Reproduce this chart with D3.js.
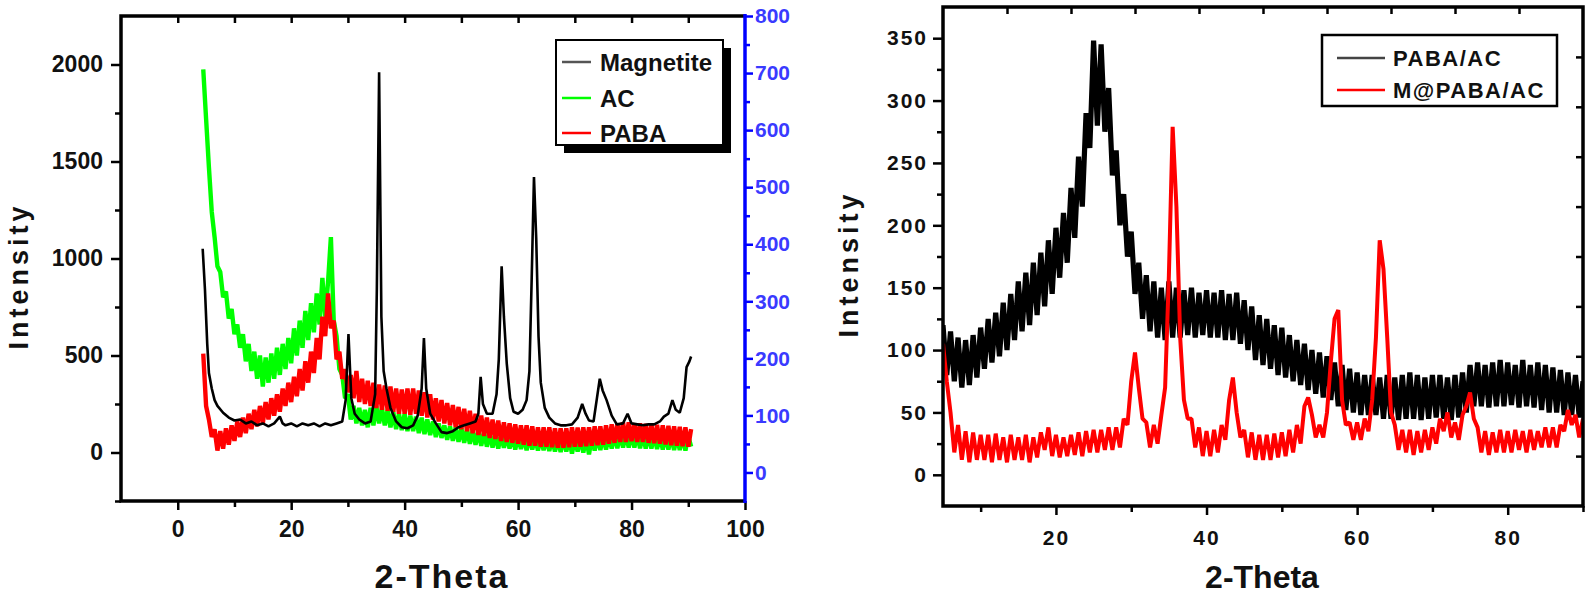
<!DOCTYPE html>
<html>
<head>
<meta charset="utf-8">
<title>XRD</title>
<style>
	body { margin: 0; background: #fff; }
	svg { font-family: Arial, 'Liberation Sans', sans-serif; font-weight: bold; }
	.axis .domain { display: none; }
	.axis line { stroke: #000; stroke-width: 2.5px; }
	.axis text { fill: #111; }
	.left-panel .axis text { font-size: 23px; }
	.right-panel .axis text { font-size: 21px; letter-spacing: 2px; }
	.blue line { stroke: #0000ff; }
	.blue text { fill: #3a3aff; font-size: 21px !important; }
	.title { fill: #111; text-anchor: middle; }
	.legtext { fill: #111; dominant-baseline: central; }
	.trace { fill: none; stroke-linejoin: bevel; }
</style>
<script src="https://d3js.org/d3.v7.min.js"></script>
</head>
<body>
<script>
// ---------- left panel data (2-theta grid 4.5 .. 90.5, step 0.5) ----------
var leftTheta = d3.range(4.5, 90.51, 0.5);

var acValues = [
	1975,
	1720, 1470, 1240, 1110, 960, 930, 800, 830, 690, 740,
	610, 660, 540, 610, 470, 560, 420, 520, 380, 500,
	340, 490, 360, 510, 380, 540, 400, 560, 430, 590,
	460, 640, 500, 680, 540, 730, 580, 770, 620, 820,
	660, 900, 700, 880, 1110, 680, 600, 430, 400, 280,
	300, 170, 240, 150, 230, 140, 220, 130, 230, 140,
	240, 150, 230, 140, 220, 130, 210, 120, 200, 115,
	200, 110, 190, 110, 185, 100, 180, 95, 170, 90,
	160, 80, 150, 75, 140, 65, 135, 60, 130, 55,
	125, 50, 120, 45, 115, 40, 110, 35, 105, 30,
	100, 25, 95, 20, 90, 25, 88, 20, 85, 15,
	85, 18, 80, 12, 80, 15, 78, 10, 75, 12,
	75, 8, 72, 5, 70, 2, 72, 5, 70, -5,
	72, 5, 75, 0, 78, -10, 80, 10, 82, 12,
	85, 15, 90, 20, 92, 22, 95, 25, 95, 25,
	98, 25, 95, 22, 95, 20, 92, 20, 90, 18,
	90, 15, 88, 15, 85, 12, 85, 12, 82, 10,
	85, 30
];

var pabaValues = [
	510,
	240, 170, 80, 120, 10, 110, 20, 125, 40, 140,
	60, 160, 80, 180, 100, 200, 120, 220, 135, 240,
	150, 260, 170, 280, 190, 300, 210, 330, 240, 360,
	260, 390, 290, 430, 320, 470, 360, 520, 410, 590,
	480, 700, 600, 820, 640, 680, 480, 520, 380, 430,
	310, 400, 280, 420, 260, 380, 250, 370, 240, 360,
	230, 350, 220, 345, 215, 340, 210, 330, 200, 325,
	200, 330, 195, 330, 200, 320, 190, 310, 180, 300,
	170, 280, 160, 270, 150, 255, 140, 245, 130, 235,
	120, 225, 110, 215, 100, 200, 90, 190, 85, 180,
	75, 170, 70, 165, 60, 155, 55, 150, 50, 145,
	45, 140, 40, 140, 35, 135, 35, 130, 30, 130,
	30, 130, 28, 125, 25, 125, 25, 125, 28, 130,
	30, 128, 30, 130, 32, 130, 35, 135, 38, 135,
	40, 140, 45, 145, 50, 150, 55, 155, 55, 155,
	58, 150, 55, 150, 55, 148, 50, 145, 48, 142,
	45, 140, 42, 138, 38, 135, 35, 132, 32, 130,
	30, 120
];

var magnetiteTheta = [4.4, 4.8, 5.2, 5.5, 6.0, 6.5, 7, 8, 9, 10, 11, 12, 13, 14, 15, 16, 17, 18, 18.5, 19,
	20, 21, 22, 23, 24, 25, 26, 27, 28, 29, 29.6, 30.1, 30.6, 31.2, 32, 33, 34, 34.8, 35.1, 35.5,
	35.9, 36.3, 36.8, 37.5, 38.5, 39.5, 40.5, 41.5, 42.3, 43.0, 43.4, 43.8, 44.5, 45.5, 46.5, 47.5, 48.5, 49.5, 50.5, 51.5,
	52.5, 53.0, 53.4, 53.8, 54.5, 55.5, 56.2, 56.6, 57.1, 57.5, 58, 58.6, 59.2, 60, 60.8, 61.5, 62.0, 62.4, 62.8, 63.2,
	63.6, 64, 64.7, 65.5, 66.5, 67.5, 68.5, 69.5, 70.5, 71.3, 71.9, 72.5, 73.3, 73.9, 74.4, 74.9, 75.6, 76.5, 77.4, 78.5,
	79.3, 80, 81, 82, 83, 84, 85, 85.7, 86.5, 87.2, 87.8, 88.5, 89.2, 89.7, 90.2, 90.5];
var magnetiteValues = [1050, 840, 560, 410, 330, 270, 240, 205, 180, 165, 170, 150, 160, 140, 150, 135, 150, 185, 150, 140,
	150, 135, 150, 140, 150, 135, 150, 140, 150, 160, 270, 610, 280, 200, 170, 150, 160, 300, 840, 1960,
	700, 420, 330, 230, 160, 130, 125, 140, 190, 330, 590, 330, 200, 150, 105, 100, 110, 130, 140, 150,
	160, 200, 390, 250, 200, 200, 300, 480, 960, 700, 460, 280, 210, 200, 220, 270, 420, 900, 1420, 1100,
	600, 360, 230, 180, 150, 140, 140, 145, 180, 250, 200, 165, 160, 280, 380, 320, 270, 190, 145, 150,
	200, 150, 145, 140, 145, 145, 160, 185, 200, 270, 220, 205, 280, 440, 470, 495];

// ---------- right panel data (2-theta grid 5 .. 90, step 0.5) ----------
var rightTheta = d3.range(5, 90.01, 0.5);

var pabaAcValues = [
	120, 80, 115, 75, 110, 70, 108, 72, 112, 78,
	118, 85, 125, 90, 130, 95, 138, 100, 145, 108,
	155, 115, 162, 120, 170, 128, 178, 135, 188, 145,
	198, 158, 210, 170, 230, 190, 255, 215, 290, 262,
	348, 280, 345, 275, 310, 240, 260, 200, 225, 175,
	195, 145, 170, 125, 160, 115, 155, 110, 150, 108,
	155, 110, 150, 110, 148, 112, 150, 110, 146, 112,
	148, 110, 146, 110, 148, 108, 145, 108, 146, 105,
	140, 100, 135, 92, 128, 88, 125, 85, 120, 80,
	118, 78, 112, 75, 108, 72, 105, 68, 100, 65,
	98, 62, 95, 60, 90, 55, 88, 52, 85, 50,
	82, 48, 80, 48, 80, 48, 78, 45, 80, 45,
	78, 44, 80, 45, 82, 45, 80, 44, 78, 45,
	80, 46, 80, 45, 78, 44, 80, 46, 82, 50,
	88, 55, 90, 55, 88, 54, 90, 55, 92, 55,
	90, 56, 88, 54, 92, 55, 88, 54, 90, 52,
	88, 50, 86, 50, 84, 48, 82, 48, 80, 46,
	75
];

var mPabaAcValues = [
	105, 75, 50, 18, 40, 12, 35, 10, 34, 12,
	32, 12, 32, 10, 33, 12, 30, 10, 32, 12,
	30, 12, 32, 10, 30, 14, 34, 20, 38, 15,
	32, 14, 30, 15, 32, 16, 34, 15, 35, 18,
	36, 18, 36, 20, 38, 20, 38, 22, 45, 40,
	75, 98, 70, 45, 42, 22, 40, 25, 48, 70,
	160, 279, 215, 110, 60, 45, 45, 22, 38, 15,
	35, 15, 36, 18, 40, 28, 60, 78, 50, 30,
	36, 14, 34, 12, 32, 12, 32, 12, 33, 14,
	34, 15, 36, 18, 40, 25, 55, 62, 48, 30,
	40, 30, 50, 90, 125, 132, 60, 40, 42, 28,
	42, 28, 45, 35, 60, 110, 188, 165, 110, 50,
	40, 20, 36, 18, 36, 16, 35, 18, 36, 20,
	38, 25, 45, 35, 50, 30, 42, 28, 48, 55,
	66, 45, 38, 18, 35, 16, 34, 18, 36, 18,
	35, 18, 36, 20, 35, 18, 36, 20, 35, 22,
	38, 22, 38, 22, 40, 35, 52, 40, 48, 30,
	45
];

// ticks
var leftXMajor = [0, 20, 40, 60, 80, 100];
var leftXMinor = [10, 30, 50, 70, 90];
var leftYMajor = [0, 500, 1000, 1500, 2000];
var leftYMinor = [-250, 250, 750, 1250, 1750];
var blueMajor = [0, 100, 200, 300, 400, 500, 600, 700, 800];
var blueMinor = [50, 150, 250, 350, 450, 550, 650, 750];
var rightXMajor = [20, 40, 60, 80];
var rightXMinor = [10, 30, 50, 70, 90];
var rightYMajor = [0, 50, 100, 150, 200, 250, 300, 350];
var rightYMinor = [25, 75, 125, 175, 225, 275, 325];
var frameTicks = [1, 2, 3, 4, 5, 6, 7, 8, 9];

var leftLegend = ['Magnetite', 'AC', 'PABA'];
var leftColors = ['#000', '#00ff00', '#ff0000'];
var rightLegend = ['PABA/AC', 'M@PABA/AC'];
var rightColors = ['#000', '#ff0000'];

var svg = d3.select('body').append('svg')
	.attr('width', 1590)
	.attr('height', 598);

function pairs(theta, vals) {
	return theta.map(function (t, i) { return [t, vals[i]]; });
}

function styleAxis(g) {
	g.attr('class', 'axis').select('.domain').remove();
}

var fmt = d3.format('d');

// ================= left panel =================
var L = svg.append('g').attr('class', 'left-panel');
var xL = d3.scaleLinear().domain([-10, 100]).range([121, 745]);
var yL = d3.scaleLinear().domain([-250, 2250]).range([501, 16]);
var yBlue = d3.scaleLinear().domain([-50, 800]).range([501, 16]);

L.append('clipPath').attr('id', 'clipL').append('rect')
	.attr('x', 121).attr('y', 16).attr('width', 624).attr('height', 485);

var lineL = d3.line().x(function (d) { return xL(d[0]); }).y(function (d) { return yL(d[1]); });
var series = L.append('g').attr('clip-path', 'url(#clipL)');
series.append('path').datum(pairs(leftTheta, acValues)).attr('class', 'trace')
	.attr('d', lineL).attr('stroke', '#00ff00').attr('stroke-width', 4.4);
series.append('path').datum(pairs(leftTheta, pabaValues)).attr('class', 'trace')
	.attr('d', lineL).attr('stroke', '#ff0000').attr('stroke-width', 4.4);
series.append('path').datum(pairs(magnetiteTheta, magnetiteValues)).attr('class', 'trace')
	.attr('d', lineL).attr('stroke', '#000').attr('stroke-width', 2.6);

// axes
L.append('g').attr('transform', 'translate(0,501)')
	.call(d3.axisBottom(xL).tickValues(leftXMajor).tickSize(9).tickPadding(11).tickFormat(fmt)).call(styleAxis);
L.append('g').attr('transform', 'translate(0,501)')
	.call(d3.axisBottom(xL).tickValues(leftXMinor).tickSize(6).tickFormat('')).call(styleAxis);
L.append('g').attr('transform', 'translate(0,16)')
	.call(d3.axisTop(xL).tickValues(leftXMajor.concat(leftXMinor).filter(function (v) { return v < 100; })).tickSize(-7).tickFormat('')).call(styleAxis);
L.append('g').attr('transform', 'translate(121,0)')
	.call(d3.axisLeft(yL).tickValues(leftYMajor).tickSize(10).tickPadding(8).tickFormat(fmt)).call(styleAxis);
L.append('g').attr('transform', 'translate(121,0)')
	.call(d3.axisLeft(yL).tickValues(leftYMinor).tickSize(6).tickFormat('')).call(styleAxis);
L.append('g').attr('transform', 'translate(745,0)')
	.call(d3.axisRight(yBlue).tickValues(blueMajor).tickSize(8).tickPadding(2).tickFormat(fmt)).call(styleAxis)
	.classed('blue', true);
L.append('g').attr('transform', 'translate(745,0)')
	.call(d3.axisRight(yBlue).tickValues(blueMinor).tickSize(5).tickFormat('')).call(styleAxis)
	.classed('blue', true);

// frame
L.append('path').attr('d', 'M745,16H121V501H745').attr('fill', 'none').attr('stroke', '#000').attr('stroke-width', 3.5);
L.append('line').attr('x1', 745).attr('x2', 745).attr('y1', 14).attr('y2', 503)
	.attr('stroke', '#0000ff').attr('stroke-width', 3.5);

// titles
L.append('text').attr('class', 'title').attr('transform', 'translate(28,276) rotate(-90)')
	.style('font-size', '27px').style('letter-spacing', '4px').text('Intensity');
L.append('text').attr('class', 'title').attr('x', 442).attr('y', 588)
	.style('font-size', '34px').style('letter-spacing', '2px').text('2-Theta');

// legend
L.append('rect').attr('x', 564).attr('y', 48).attr('width', 167).attr('height', 105).attr('fill', '#000');
L.append('rect').attr('x', 556).attr('y', 40).attr('width', 167).attr('height', 105)
	.attr('fill', '#fff').attr('stroke', '#000').attr('stroke-width', 2);
var legY = [62, 98, 133];
leftLegend.forEach(function (name, i) {
	L.append('line').attr('x1', 562).attr('x2', 591).attr('y1', legY[i]).attr('y2', legY[i])
		.attr('stroke', i === 0 ? '#555' : leftColors[i]).attr('stroke-width', 2.5);
	L.append('text').attr('class', 'legtext').attr('x', 600).attr('y', legY[i])
		.style('font-size', '24px').text(name);
});

// ================= right panel =================
var R = svg.append('g').attr('class', 'right-panel');
var xR = d3.scaleLinear().domain([5, 90]).range([943, 1583]);
var yR = d3.scaleLinear().domain([-25, 375]).range([506, 7]);
var xFrame = d3.scaleLinear().domain([0, 10]).range([943, 1583]);
var yFrame = d3.scaleLinear().domain([0, 10]).range([506, 7]);

R.append('clipPath').attr('id', 'clipR').append('rect')
	.attr('x', 943).attr('y', 7).attr('width', 640).attr('height', 499);

var lineR = d3.line().x(function (d) { return xR(d[0]); }).y(function (d) { return yR(d[1]); });
var seriesR = R.append('g').attr('clip-path', 'url(#clipR)');
seriesR.append('path').datum(pairs(rightTheta, pabaAcValues)).attr('class', 'trace')
	.attr('d', lineR).attr('stroke', '#000').attr('stroke-width', 5.2);
seriesR.append('path').datum(pairs(rightTheta, mPabaAcValues)).attr('class', 'trace')
	.attr('d', lineR).attr('stroke', '#ff0000').attr('stroke-width', 4);

R.append('g').attr('transform', 'translate(0,506)')
	.call(d3.axisBottom(xR).tickValues(rightXMajor).tickSize(9).tickPadding(15).tickFormat(fmt)).call(styleAxis);
R.append('g').attr('transform', 'translate(0,506)')
	.call(d3.axisBottom(xR).tickValues(rightXMinor).tickSize(6).tickFormat('')).call(styleAxis);
R.append('g').attr('transform', 'translate(943,0)')
	.call(d3.axisLeft(yR).tickValues(rightYMajor).tickSize(10).tickPadding(5).tickFormat(fmt)).call(styleAxis);
R.append('g').attr('transform', 'translate(943,0)')
	.call(d3.axisLeft(yR).tickValues(rightYMinor).tickSize(6).tickFormat('')).call(styleAxis);
R.append('g').attr('transform', 'translate(0,7)')
	.call(d3.axisTop(xFrame).tickValues(frameTicks).tickSize(-7).tickFormat('')).call(styleAxis);
R.append('g').attr('transform', 'translate(1583,0)')
	.call(d3.axisRight(yFrame).tickValues(frameTicks).tickSize(-7).tickFormat('')).call(styleAxis);

R.append('rect').attr('x', 943).attr('y', 7).attr('width', 640).attr('height', 499)
	.attr('fill', 'none').attr('stroke', '#000').attr('stroke-width', 3.5);

R.append('text').attr('class', 'title').attr('transform', 'translate(858,264) rotate(-90)')
	.style('font-size', '27px').style('letter-spacing', '4px').text('Intensity');
R.append('text').attr('class', 'title').attr('x', 1262).attr('y', 588)
	.style('font-size', '32px').text('2-Theta');

R.append('rect').attr('x', 1322).attr('y', 35).attr('width', 235).attr('height', 71)
	.attr('fill', '#fff').attr('stroke', '#000').attr('stroke-width', 2.5);
var legYR = [58, 90];
rightLegend.forEach(function (name, i) {
	R.append('line').attr('x1', 1337).attr('x2', 1385).attr('y1', legYR[i]).attr('y2', legYR[i])
		.attr('stroke', i === 0 ? '#444' : rightColors[i]).attr('stroke-width', 2.5);
	R.append('text').attr('class', 'legtext').attr('x', 1393).attr('y', legYR[i])
		.style('font-size', '22px').style('letter-spacing', '1.5px').attr('fill', '#222').text(name);
});
</script>
</body>
</html>
